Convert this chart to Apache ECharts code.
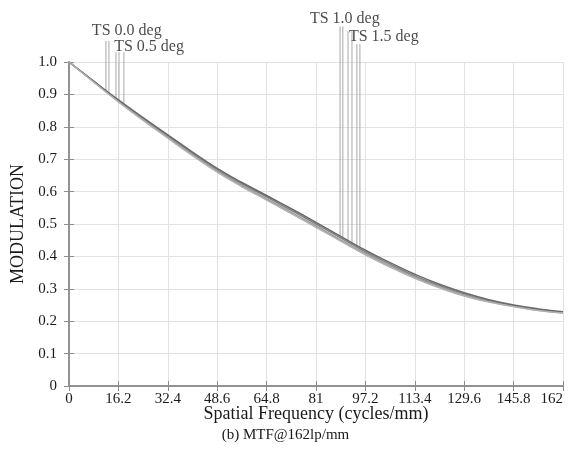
<!DOCTYPE html>
<html>
<head>
<meta charset="utf-8">
<script src="https://cdn.jsdelivr.net/npm/echarts@6/dist/echarts.min.js"></script>
<style>
html,body{margin:0;padding:0;background:#fff;}
#chart{width:571px;height:462px;}
</style>
</head>
<body>
<div id="chart"></div>
<script>
// ---- data ----
var freq = [0, 8.1, 16.2, 24.3, 32.4, 40.5, 48.6, 56.7, 64.8, 72.9, 81, 89.1, 97.2, 105.3, 113.4, 121.5, 129.6, 137.7, 145.8, 153.9, 162];
var mtfA = [1.000,0.940,0.881,0.826,0.772,0.718,0.668,0.624,0.584,0.542,0.500,0.457,0.414,0.376,0.340,0.310,0.284,0.263,0.248,0.236,0.227];
var mtfB = [1.000,0.939,0.879,0.823,0.768,0.714,0.664,0.619,0.578,0.536,0.494,0.451,0.409,0.371,0.336,0.306,0.281,0.261,0.246,0.234,0.226];
var mtfC = [1.000,0.941,0.883,0.828,0.775,0.722,0.672,0.628,0.588,0.547,0.505,0.462,0.419,0.381,0.345,0.314,0.288,0.266,0.250,0.238,0.229];
var mtfD = [1.000,0.938,0.877,0.820,0.765,0.711,0.660,0.615,0.574,0.532,0.490,0.447,0.405,0.367,0.332,0.303,0.278,0.259,0.245,0.233,0.225];
var xTicks = [0, 16.2, 32.4, 48.6, 64.8, 81, 97.2, 113.4, 129.6, 145.8, 162];
var yTicks = [0, 0.1, 0.2, 0.3, 0.4, 0.5, 0.6, 0.7, 0.8, 0.9, 1.0];
// legend marker lines (field labels)
var markerX = [12.1, 13.1, 15.4, 16.4, 18.0, 88.9, 89.8, 91.5, 92.8, 94.4, 95.4];
var markerTop = [1.065, 1.065, 1.03, 1.03, 1.03, 1.11, 1.11, 1.095, 1.095, 1.055, 1.055];
var markerBottom = [0.910, 0.903, 0.887, 0.880, 0.868, 0.458, 0.454, 0.446, 0.440, 0.432, 0.427];
var fieldLabels = ['TS 0.0 deg', 'TS 0.5 deg', 'TS 1.0 deg', 'TS 1.5 deg'];
var fieldLabelAt = [[7.5, 1.096], [14.8, 1.046], [79.0, 1.133], [91.8, 1.077]];

// ---- chart ----
var FONT = '"Liberation Serif", "DejaVu Serif", serif';
var chart = echarts.init(document.getElementById('chart'), null, {renderer: 'canvas'});

function pairs(xs, ys) { return xs.map(function (x, i) { return [x, ys[i]]; }); }
function fmtX(v) { var r = Math.round(v * 10) / 10; return String(r); }
function fmtY(v) { var r = Math.round(v * 10) / 10; return r === 0 ? '0' : r.toFixed(1); }

var curveColors = ['#808080', '#9a9a9a', '#6a6a6a', '#b0b0b0'];
var curves = [mtfA, mtfB, mtfC, mtfD];
var series = curves.map(function (c, i) {
  return {
    type: 'line', data: pairs(freq, c), smooth: true, showSymbol: false,
    lineStyle: {color: curveColors[i], width: 1.5}, z: 3, silent: true
  };
});
markerX.forEach(function (x, i) {
  series.push({
    type: 'line', data: [[x, markerTop[i]], [x, markerBottom[i]]], showSymbol: false,
    clip: false, lineStyle: {color: '#a8a8a8', width: 1}, z: 2, silent: true
  });
});
series.push({
  type: 'scatter', symbolSize: 0, clip: false, silent: true,
  data: fieldLabels.map(function (t, i) { return {value: fieldLabelAt[i], name: t}; }),
  label: {show: true, position: 'right', distance: 0, formatter: '{b}',
          color: '#1a1a1a', fontFamily: FONT, fontSize: 16}
});

var option = {
  animation: false,
  backgroundColor: '#fff',
  title: {
    text: '(b) MTF@162lp/mm', left: 'center', top: 423,
    textStyle: {fontFamily: FONT, fontSize: 15, fontWeight: 'normal', color: '#1a1a1a'}
  },
  grid: {left: 69, right: 8, top: 62, bottom: 76, show: false, outerBoundsMode: 'none', containLabel: false},
  xAxis: [{
    type: 'value', min: 0, max: 162, interval: 16.2,
    name: 'Spatial Frequency (cycles/mm)', nameLocation: 'middle', nameGap: 19, nameMoveOverlap: false,
    nameTextStyle: {fontFamily: FONT, fontSize: 18, color: '#1a1a1a'},
    axisLine: {show: true, lineStyle: {color: '#8c8c8c', width: 1.5}},
    axisTick: {show: true, inside: true, length: 5, lineStyle: {color: '#8c8c8c'}},
    axisLabel: {formatter: fmtX, fontFamily: FONT, fontSize: 15, color: '#1a1a1a', margin: 6, alignMaxLabel: 'right'},
    splitLine: {show: true, lineStyle: {color: '#e2e2e2', width: 1}}
  }, {
    type: 'value', position: 'top', min: 0, max: 162, interval: 16.2,
    axisLine: {show: true, lineStyle: {color: '#8c8c8c', width: 1.5}},
    axisTick: {show: true, inside: true, length: 5, lineStyle: {color: '#8c8c8c'}},
    axisLabel: {show: false}, splitLine: {show: false}
  }],
  yAxis: [{
    type: 'value', min: 0, max: 1, interval: 0.1,
    name: 'MODULATION', nameLocation: 'middle', nameGap: 42, nameRotate: 90, nameMoveOverlap: false,
    nameTextStyle: {fontFamily: FONT, fontSize: 18, color: '#1a1a1a'},
    axisLine: {show: true, lineStyle: {color: '#8c8c8c', width: 1.5}},
    axisTick: {show: true, inside: true, length: 5, lineStyle: {color: '#8c8c8c'}},
    axisLabel: {formatter: fmtY, fontFamily: FONT, fontSize: 15, color: '#1a1a1a', margin: 12},
    splitLine: {show: true, lineStyle: {color: '#e2e2e2', width: 1}}
  }, {
    type: 'value', position: 'right', min: 0, max: 1, interval: 0.1,
    axisLine: {show: true, lineStyle: {color: '#8c8c8c', width: 1.5}},
    axisTick: {show: true, inside: true, length: 5, lineStyle: {color: '#8c8c8c'}},
    axisLabel: {show: false}, splitLine: {show: false}
  }],
  series: series
};
chart.setOption(option);
</script>
</body>
</html>
